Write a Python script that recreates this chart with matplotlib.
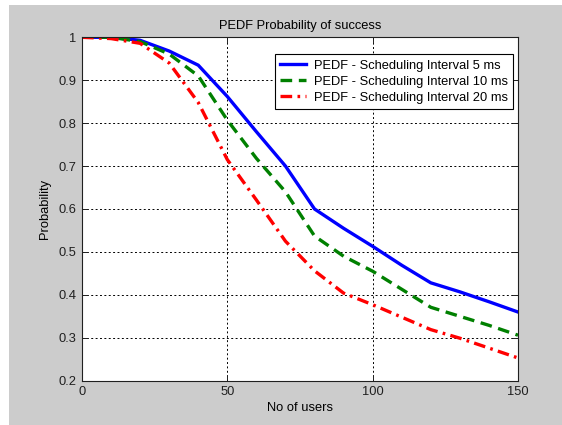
import numpy as np
import matplotlib.pyplot as plt
from matplotlib.patches import Rectangle

plt.rcParams['font.family'] = ['Liberation Sans', 'DejaVu Sans']
plt.rcParams['font.size'] = 9.3

# No of users
usuarios = [0, 10, 20, 30, 40, 50, 60, 70, 80, 90, 100, 110, 120, 130, 140, 150]
# probabilidad de exito para cada intervalo de scheduling
prob_5ms = [1.0, 1.0, 0.993, 0.968, 0.935, 0.862, 0.78, 0.70, 0.60, 0.555, 0.513, 0.469, 0.428, 0.407, 0.384, 0.36]
prob_10ms = [1.0, 1.0, 0.99, 0.961, 0.91, 0.807, 0.718, 0.64, 0.537, 0.49, 0.455, 0.413, 0.371, 0.35, 0.329, 0.306]
prob_20ms = [1.0, 0.997, 0.986, 0.94, 0.848, 0.715, 0.621, 0.525, 0.456, 0.404, 0.377, 0.348, 0.319, 0.299, 0.276, 0.253]
etiquetas = ['PEDF - Scheduling Interval 5 ms',
             'PEDF - Scheduling Interval 10 ms',
             'PEDF - Scheduling Interval 20 ms']

fig = plt.figure(figsize=(5.62, 4.25), dpi=100, facecolor='white')
# fondo gris estilo matlab
fig.patches.append(Rectangle((9/562., 0), 553/562., 420/425., transform=fig.transFigure,
                             facecolor='#cccccc', edgecolor='none', zorder=-10))

ax = fig.add_axes([82/562., 1-380.7/425., 436/562., 343.4/425.])
ax.set_zorder(1)
ax.set_facecolor('white')

ax.plot(usuarios, prob_5ms, color='#0000ff', lw=2.4, ls='-', label=etiquetas[0])
ax.plot(usuarios, prob_10ms, color='#008000', lw=2.4, ls=(0, (3.5, 2)), label=etiquetas[1])
ax.plot(usuarios, prob_20ms, color='#ff0000', lw=2.4, ls=(0, (3.5, 1.6, 0.8, 1.6)), label=etiquetas[2])

ax.set_xlim(0, 150)
ax.set_ylim(0.2, 1)
ax.set_xticks([0, 50, 100, 150])
ax.set_yticks([0.2, 0.3, 0.4, 0.5, 0.6, 0.7, 0.8, 0.9, 1])
ax.set_yticklabels(['0.2', '0.3', '0.4', '0.5', '0.6', '0.7', '0.8', '0.9', '1'])
ax.tick_params(direction='in', top=True, right=True, length=4, width=0.7, labelsize=9.3,
               colors='#202020', pad=4)
ax.grid(True, color='black', ls=(0, (2, 2.5)), lw=0.7)
for s in ax.spines.values():
    s.set_linewidth(0.8)
    s.set_color('#202020')

ax.set_title('PEDF Probability of success', fontsize=9.3, pad=6)
ax.set_xlabel('No of users', fontsize=9.3, labelpad=3)
ax.set_ylabel('Probability', fontsize=9.3, labelpad=5)

leg = ax.legend(loc='upper right', bbox_to_anchor=(0.9885, 0.9505), fontsize=9.3,
                fancybox=False, framealpha=1, edgecolor='black', handlelength=2.0,
                handletextpad=0.6, labelspacing=0.3, borderpad=0.42, borderaxespad=0)
leg.get_frame().set_linewidth(0.8)

plt.savefig('out.png', dpi=100, facecolor=fig.get_facecolor())
